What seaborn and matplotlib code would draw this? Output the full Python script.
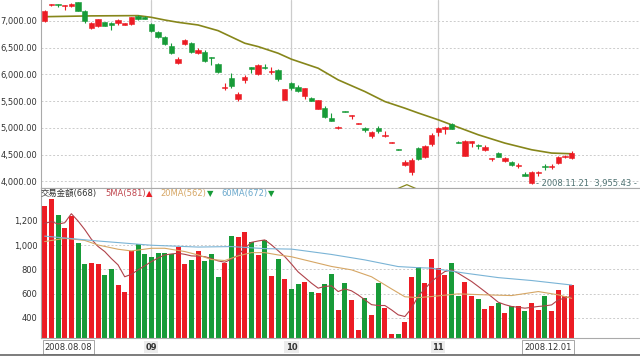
"""TAIEX daily candles with 20MA and turnover panel, 2008.08.08 - 2008.12.01."""

import matplotlib

matplotlib.use("Agg")
import matplotlib.pyplot as plt
import matplotlib.transforms as mtransforms
from matplotlib.lines import Line2D
import numpy as np
import pandas as pd
import seaborn as sns

# one entry per trading day
opens = [7000, 7298, 7312, 7275, 7272, 7350, 7185, 6870, 6913, 6980,
         6965, 6955, 6930, 6940, 7095, 7080, 6945, 6795, 6695, 6535,
         6216, 6565, 6583, 6397, 6425, 6328, 6191, 5756, 5930, 5550,
         5899, 6135, 6011, 6148, 6055, 6086, 5530, 5837, 5760, 5590,
         5569, 5358, 5380, 5180, 4995, 5315, 5215, 5080, 4995, 4841,
         4995, 4852, 4721, 4600, 4313, 4176, 4624, 4462, 4705, 4923,
         4985, 5078, 4735, 4481, 4717, 4674, 4593, 4419, 4531, 4375,
         4363, 4282, 4145, 3971, 4151, 4295, 4276, 4344, 4456, 4437]
highs = [7205, 7322, 7318, 7296, 7330, 7362, 7200, 6980, 7045, 6990,
         6972, 7035, 6970, 7080, 7110, 7095, 6970, 6815, 6720, 6585,
         6328, 6660, 6615, 6490, 6455, 6335, 6222, 5837, 6023, 5681,
         5992, 6148, 6191, 6191, 6148, 6098, 5737, 5868, 5800, 5755,
         5575, 5530, 5410, 5285, 5040, 5320, 5245, 5090, 5020, 4947,
         5035, 4950, 4730, 4603, 4394, 4437, 4643, 4686, 4910, 5016,
         5028, 5085, 4750, 4780, 4761, 4705, 4674, 4431, 4545, 4455,
         4375, 4344, 4176, 4189, 4189, 4332, 4332, 4470, 4500, 4562]
lows = [6985, 7288, 7270, 7210, 7255, 7180, 6970, 6845, 6895, 6905,
        6840, 6925, 6920, 6925, 7020, 7030, 6790, 6675, 6550, 6385,
        6205, 6550, 6395, 6385, 6238, 6180, 6023, 5713, 5744, 5513,
        5849, 6036, 5999, 6098, 6011, 5887, 5515, 5712, 5680, 5540,
        5507, 5350, 5185, 5122, 4978, 5292, 5177, 5078, 4930, 4810,
        4904, 4832, 4716, 4592, 4294, 4126, 4406, 4437, 4670, 4842,
        4892, 4980, 4710, 4469, 4643, 4605, 4562, 4375, 4450, 4360,
        4290, 4251, 4095, 3955.43, 4095, 4220, 4232, 4332, 4437, 4419]
closes = [7190, 7308, 7292, 7290, 7315, 7195, 7000, 6970, 7030, 6913,
          6925, 7020, 6955, 7070, 7030, 7045, 6815, 6695, 6570, 6410,
          6291, 6640, 6420, 6450, 6250, 6303, 6042, 5768, 5793, 5638,
          5961, 6110, 6179, 6129, 6073, 5918, 5725, 5755, 5700, 5745,
          5513, 5520, 5203, 5134, 5020, 5297, 5240, 5087, 4958, 4923,
          4944, 4870, 4728, 4593, 4369, 4400, 4419, 4670, 4868, 4997,
          5010, 4990, 4718, 4748, 4748, 4658, 4636, 4431, 4456, 4437,
          4300, 4307, 4108, 4176, 4170, 4276, 4295, 4456, 4481, 4531]
turnover = [1326, 1381, 1249, 1140, 1244, 1016, 843, 852, 846, 756,
            802, 668, 616, 956, 1008, 926, 906, 939, 934, 926,
            989, 843, 882, 953, 871, 928, 742, 852, 1077, 1071,
            1107, 1030, 923, 1044, 750, 885, 720, 643, 682, 693,
            613, 602, 681, 764, 470, 687, 550, 300, 564, 421,
            687, 481, 267, 264, 369, 737, 821, 692, 890, 811,
            753, 852, 580, 698, 580, 558, 476, 498, 523, 443,
            495, 495, 459, 525, 462, 580, 454, 630, 585, 668]

# moving averages (day index, value)
price_ma_days = [0, 7, 14, 16, 18, 20, 23, 26, 30, 32, 35, 37, 41, 44,
                 48, 51, 54, 56, 59, 61, 65, 69, 73, 76, 79]
price_ma = [7080, 7095, 7100, 7068, 7018, 6975, 6925, 6819, 6584, 6521,
            6397, 6285, 6117, 5899, 5681, 5494, 5370, 5280, 5153, 5059,
            4873, 4717, 4593, 4531, 4518]
price_peek_days = [52.8, 54.3, 55.8]
price_peek = [3860, 3940, 3860]

ma5 = [1180, 1195, 1175, 1185, 1260, 1200, 1130, 1050, 990, 948,
       890, 838, 740, 760, 797, 830, 865, 895, 920, 928,
       934, 925, 912, 910, 906, 890, 871, 860, 885, 920,
       975, 1024, 1035, 1044, 1003, 955, 906, 845, 780, 734,
       687, 646, 660, 665, 618, 640, 624, 590, 550, 510,
       503, 503, 467, 426, 412, 480, 580, 640, 701, 745,
       783, 797, 769, 735, 701, 660, 618, 575, 530, 510,
       495, 488, 481, 488, 495, 500, 508, 550, 563, 581]
ma20_days = [0, 3, 6, 8, 11, 13, 16, 18, 21, 23, 25, 27, 29, 31, 33, 35,
             37, 40, 43, 46, 49, 52, 54, 56, 58, 62, 66, 70, 74, 77, 79]
ma20 = [1030, 1057, 1040, 1002, 967, 953, 975, 975, 948, 920, 882, 874,
        912, 939, 939, 920, 905, 865, 825, 797, 740, 640, 575, 568, 577,
        599, 591, 585, 618, 591, 562]
ma60_days = [0, 8, 16, 23, 28, 33, 37, 38, 43, 48, 53, 56, 58, 63, 68,
             73, 79]
ma60 = [1075, 1035, 1000, 985, 989, 972, 968, 961, 924, 879, 824, 815,
        811, 770, 733, 709, 672]

month_labels = ["09", "10", "11"]
month_starts = [16, 37, 59]
first_date = "2008.08.08"
last_date = "2008.12.01"
low_day = 73
low_date = "2008.11.21"

price_ticks = [4000, 4500, 5000, 5500, 6000, 6500, 7000]
turnover_ticks = [400, 600, 800, 1000, 1200]

RED = "#ec1c24"
GREEN = "#179b38"
OLIVE = "#86861a"
GRID = "#cccccc"
TEXT = "#333333"


def style_axis(ax):
    ax.set_facecolor("white")
    for side in ("top", "right"):
        ax.spines[side].set_visible(False)
    for side in ("left", "bottom"):
        ax.spines[side].set_color("#aaaaaa")
        ax.spines[side].set_linewidth(0.8)
    ax.tick_params(axis="y", length=0, pad=2.5, labelsize=6, labelcolor=TEXT)
    ax.tick_params(axis="x", length=0, labelbottom=False)
    ax.yaxis.grid(True, linestyle=(0, (2, 2)), color=GRID, linewidth=0.7)
    ax.xaxis.grid(False)
    ax.set_axisbelow(True)
    for day in month_starts:
        ax.axvline(day, color=GRID, linewidth=0.9, zorder=0.5)
    ax.set_xlabel("")
    ax.set_ylabel("")


def draw_candles(ax):
    o = np.array(opens, dtype=float)
    c = np.array(closes, dtype=float)
    x = np.arange(len(o))
    colors = np.where(c >= o, RED, GREEN)
    ax.vlines(x, lows, highs, colors=colors, linewidth=0.8, zorder=3)
    bottom = np.minimum(o, c)
    height = np.maximum(np.abs(c - o), 10)
    ax.bar(x, height, bottom=bottom, width=0.8, color=colors,
           edgecolor=colors, linewidth=0.4, zorder=4)


sns.set_style("white")
plt.rcParams["font.family"] = ["DejaVu Sans", "Noto Sans CJK TC"]

fig = plt.figure(figsize=(6.4, 3.56), dpi=100)
W, H = 640, 356
ax_p = fig.add_axes([41 / W, 1 - 188 / H, 599 / W, 188 / H])
ax_v = fig.add_axes([41 / W, 18 / H, 599 / W, 150 / H], sharex=ax_p)

# price panel
sns.lineplot(x=price_ma_days, y=price_ma, ax=ax_p, color=OLIVE,
             linewidth=1.2, zorder=2)
sns.lineplot(x=price_peek_days, y=price_peek, ax=ax_p, color=OLIVE,
             linewidth=0.9, zorder=2)
draw_candles(ax_p)
ax_p.set_ylim(3878, 7392)
ax_p.set_yticks(price_ticks)
ax_p.set_yticklabels([f"{v:,.2f}" for v in price_ticks])
style_axis(ax_p)
ax_p.text(low_day + 0.6, lows[low_day], f"- {low_date}  {lows[low_day]:,.2f} -",
          fontsize=6, color="#4f7272", va="center", ha="left", zorder=5,
          clip_on=False)

# turnover panel
vol_df = pd.DataFrame({
    "day": np.arange(len(turnover)),
    "turnover": turnover,
    "dir": np.where(np.array(closes) >= np.array(opens), "up", "down"),
})
sns.barplot(data=vol_df, x="day", y="turnover", hue="dir",
            palette={"up": RED, "down": GREEN}, native_scale=True,
            width=0.75, saturation=1, errorbar=None, legend=False,
            dodge=False, linewidth=0, ax=ax_v)
sns.lineplot(x=np.arange(len(ma5)), y=ma5, ax=ax_v, color="#b0424a",
             linewidth=0.8, zorder=5)
sns.lineplot(x=ma20_days, y=ma20, ax=ax_v, color="#d6a664",
             linewidth=0.8, zorder=5)
sns.lineplot(x=ma60_days, y=ma60, ax=ax_v, color="#7ab4d6",
             linewidth=0.8, zorder=5)
ax_v.set_ylim(235, 1472)
ax_v.set_yticks(turnover_ticks)
ax_v.set_yticklabels([f"{v:,}" for v in turnover_ticks])
style_axis(ax_v)
ax_v.spines["top"].set_visible(True)
ax_v.spines["top"].set_color("#aaaaaa")
ax_v.spines["top"].set_linewidth(0.8)
ax_p.set_xlim(-0.55, 89.25)


# legend row
def fx(px):
    return (px - 41) / 599


legend_y = 0.965
ax_v.text(fx(41), legend_y, f"交易金額({turnover[-1]})", transform=ax_v.transAxes,
          fontsize=6, color=TEXT, va="center", ha="left")
ax_v.text(fx(105), legend_y, f"5MA({ma5[-1]})", transform=ax_v.transAxes,
          fontsize=6, color="#c0464e", va="center", ha="left")
ax_v.text(fx(146), legend_y, "▲", transform=ax_v.transAxes,
          fontsize=6, color=RED, va="center", ha="left")
ax_v.text(fx(160), legend_y, f"20MA({ma20[-1]})", transform=ax_v.transAxes,
          fontsize=6, color="#d6a664", va="center", ha="left")
ax_v.text(fx(207), legend_y, "▼", transform=ax_v.transAxes,
          fontsize=6, color=GREEN, va="center", ha="left")
ax_v.text(fx(221), legend_y, f"60MA({ma60[-1]})", transform=ax_v.transAxes,
          fontsize=6, color="#6aa8cc", va="center", ha="left")
ax_v.text(fx(268), legend_y, "▼", transform=ax_v.transAxes,
          fontsize=6, color=GREEN, va="center", ha="left")

# date axis
trans = mtransforms.blended_transform_factory(ax_v.transData, ax_v.transAxes)
date_box = dict(boxstyle="square,pad=0.25", fc="white", ec="#999999", lw=0.6)
month_box = dict(boxstyle="square,pad=0.15", fc="#ececec", ec="none")
ax_v.text(0.0, -0.06, first_date, transform=trans, fontsize=6, color=TEXT,
          ha="left", va="center", bbox=date_box, clip_on=False)
ax_v.text(len(turnover) - 1, -0.06, last_date, transform=trans, fontsize=6,
          color=TEXT, ha="right", va="center", bbox=date_box, clip_on=False)
for day, label in zip(month_starts, month_labels):
    ax_v.text(day, -0.06, label, transform=trans, fontsize=6, color=TEXT,
              fontweight="bold", ha="center", va="center", bbox=month_box,
              clip_on=False)

fig.add_artist(Line2D([0, 1], [1.5 / H, 1.5 / H], color="#666666", lw=1.2))

fig.savefig("out.png", dpi=100)
